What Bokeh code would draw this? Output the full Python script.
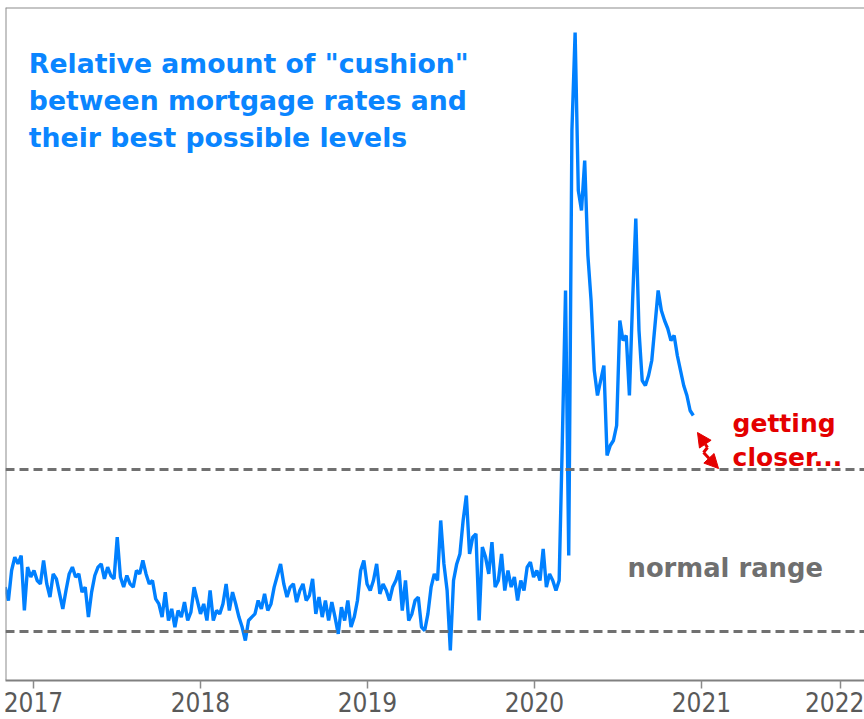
import pandas as pd
from bokeh.plotting import figure
from bokeh.models import Span, Label, Arrow, NormalHead, FixedTicker, Range1d
from bokeh.embed import file_html
from bokeh.resources import INLINE

# ---- data (weekly "cushion" index) ----
start_date = "2016-10-31"
cushion = [
    # late 2016 - 2017
    46.7, 40, 55, 61.7, 58.3, 62.5, 35, 56.7, 51.7, 55, 50, 48.3, 60, 48.3, 41.7, 53.3,
    50.8, 43.3, 35.8, 45, 53.3, 56.7, 51.7, 53.3, 44.2, 46.7, 31.7, 44.2, 52.5, 56.7,
    58.3, 50.8, 56.7, 52.5, 50.8, 71.7, 51.7, 46.7, 52.5, 48.3, 46.7, 55, 53.3, 60, 53.3,
    48.3, 50, 40.8, 38.3, 31.7, 44.2, 30, 35.8, 26.7, 35, 31.7, 39.2, 30,
    # 2018
    34.2, 46.7, 40, 33.3, 38.3, 30, 45, 30, 35, 33.3, 38.3, 48.3, 35, 44.2, 38.3, 31.7,
    26.7, 20, 30, 31.7, 33.3, 40, 35.8, 43.3, 35, 38.3, 46.7, 52.5, 58.3, 48.3, 41.7,
    46.7, 48.3, 39.2, 45, 48.3, 40, 42.5, 50.8, 33.3, 41.7, 31.7, 40, 30, 39.2, 31.7,
    23.3, 36.7, 30, 40, 26.7, 31.7, 40, 55, 60, 48.3, 45, 50,
    # 2019
    58.3, 43.3, 48.3, 45, 40, 46.7, 50, 55, 35, 50, 30, 33.3, 40, 41.7, 26.7, 25, 33.3,
    46.7, 53.3, 50, 80, 58.3, 45, 15, 50, 58.3, 63.3, 80, 92.5, 63.3, 71.7, 73.3, 30,
    66.7, 61.7, 53.3, 69.2, 46.7, 50, 63.3, 45, 55, 46.7, 51.7, 40, 50, 45, 56.7, 59.2,
    51.7, 55, 50, 65.8, 46.7, 53.3, 50, 45,
    # 2020
    50, 120, 195, 62.5, 275, 324, 245, 235, 260, 212.5, 190, 155, 142.5, 150, 157.5,
    112.5, 117.5, 120, 127.5, 180, 170, 172.5, 142.5, 190, 231, 175, 150, 147.5, 152.5,
    160, 177.5, 195, 185, 180, 176, 170, 172.5, 162.5, 155, 147.5, 142.5, 135, 132.5,
]
normal_low = 24.5
normal_high = 105.5
year_ticks = [2017, 2018, 2019, 2020, 2021]
edge_year_label = "2022"
edge_year_pos = 2021.83   # the original pulls its last label inside the right edge

title_lines = ['Relative amount of "cushion"', "between mortgage rates and", "their best possible levels"]
note_lines = ["getting", "closer..."]
range_label = "normal range"

# ---- build ----
dates = pd.date_range(start_date, periods=len(cushion), freq="7D")
xyear = dates.year + (dates.dayofyear - 1) / (365 + dates.is_leap_year.astype(int))

BLUE = "#0080ff"
TEXT_BLUE = "#0a85ff"
RED = "#e40000"
GRAY = "#6f6f6f"
AXIS_FONT = "Liberation Sans Narrow, DejaVu Sans Condensed, sans-serif"

x0, x1 = 2016.8323, 2021.976
y0, y1 = 0.0, 336.5

p = figure(width=864, height=719, x_range=Range1d(x0, x1), y_range=Range1d(y0, y1),
           output_backend="svg", toolbar_location=None, y_axis_location=None,
           min_border_left=5, min_border_right=0, min_border_top=7, min_border_bottom=39)
p.grid.visible = False
p.outline_line_color = None
p.background_fill_color = "white"
p.border_fill_color = "white"

xa = p.xaxis[0]
xa.ticker = FixedTicker(ticks=year_ticks + [edge_year_pos])
xa.major_label_overrides = {**{t: str(t) for t in year_ticks}, edge_year_pos: edge_year_label}
xa.axis_line_color = "#808080"
xa.axis_line_width = 2
xa.major_tick_in = 0
xa.major_tick_out = 8
xa.major_tick_line_color = "#8a8a8a"
xa.major_tick_line_width = 1.5
xa.minor_tick_line_color = None
xa.major_label_standoff = 3
xa.major_label_text_font = AXIS_FONT
xa.major_label_text_font_size = "26px"
xa.major_label_text_color = "#595959"

# frame borders (left, top)
p.add_layout(Span(location=x0, dimension="height", line_color="#8c8c8c", line_width=2))
p.add_layout(Span(location=y1, dimension="width", line_color="#8c8c8c", line_width=2))

# normal range
for lvl in (normal_low, normal_high):
    p.add_layout(Span(location=lvl, dimension="width", line_color="#707070",
                      line_width=3, line_dash="9 5"))

p.line(xyear, cushion, line_color=BLUE, line_width=3.4)

# title text
for i, t in enumerate(title_lines):
    p.add_layout(Label(x=2016.972, y=308.5 - 18.5 * i, text=t, text_font="DejaVu Sans",
                       text_font_style="bold", text_font_size="26.7px", text_color=TEXT_BLUE,
                       text_baseline="alphabetic", text_align="left"))

for i, t in enumerate(note_lines):
    p.add_layout(Label(x=2021.186, y=128.5 - 17 * i, text=t, text_font="DejaVu Sans",
                       text_font_style="bold", text_font_size="25px", text_color=RED,
                       text_baseline="alphabetic", text_align="left"))

p.add_layout(Label(x=2020.557, y=56.5, text=range_label, text_font="DejaVu Sans",
                   text_font_style="bold", text_font_size="25.8px", text_color=GRAY,
                   text_baseline="alphabetic", text_align="left"))

# lightning double arrow
p.add_layout(Arrow(x_start=2021.036, y_start=116.5, x_end=2020.976, y_end=124,
                   line_color=RED, line_width=3,
                   end=NormalHead(size=14, fill_color=RED, line_color=RED)))
p.line([2021.036, 2021.012], [116.5, 114], line_color=RED, line_width=3)
p.add_layout(Arrow(x_start=2021.012, y_start=114, x_end=2021.102, y_end=106,
                   line_color=RED, line_width=3,
                   end=NormalHead(size=14, fill_color=RED, line_color=RED)))

open("out.html", "w").write(file_html(p, INLINE))
